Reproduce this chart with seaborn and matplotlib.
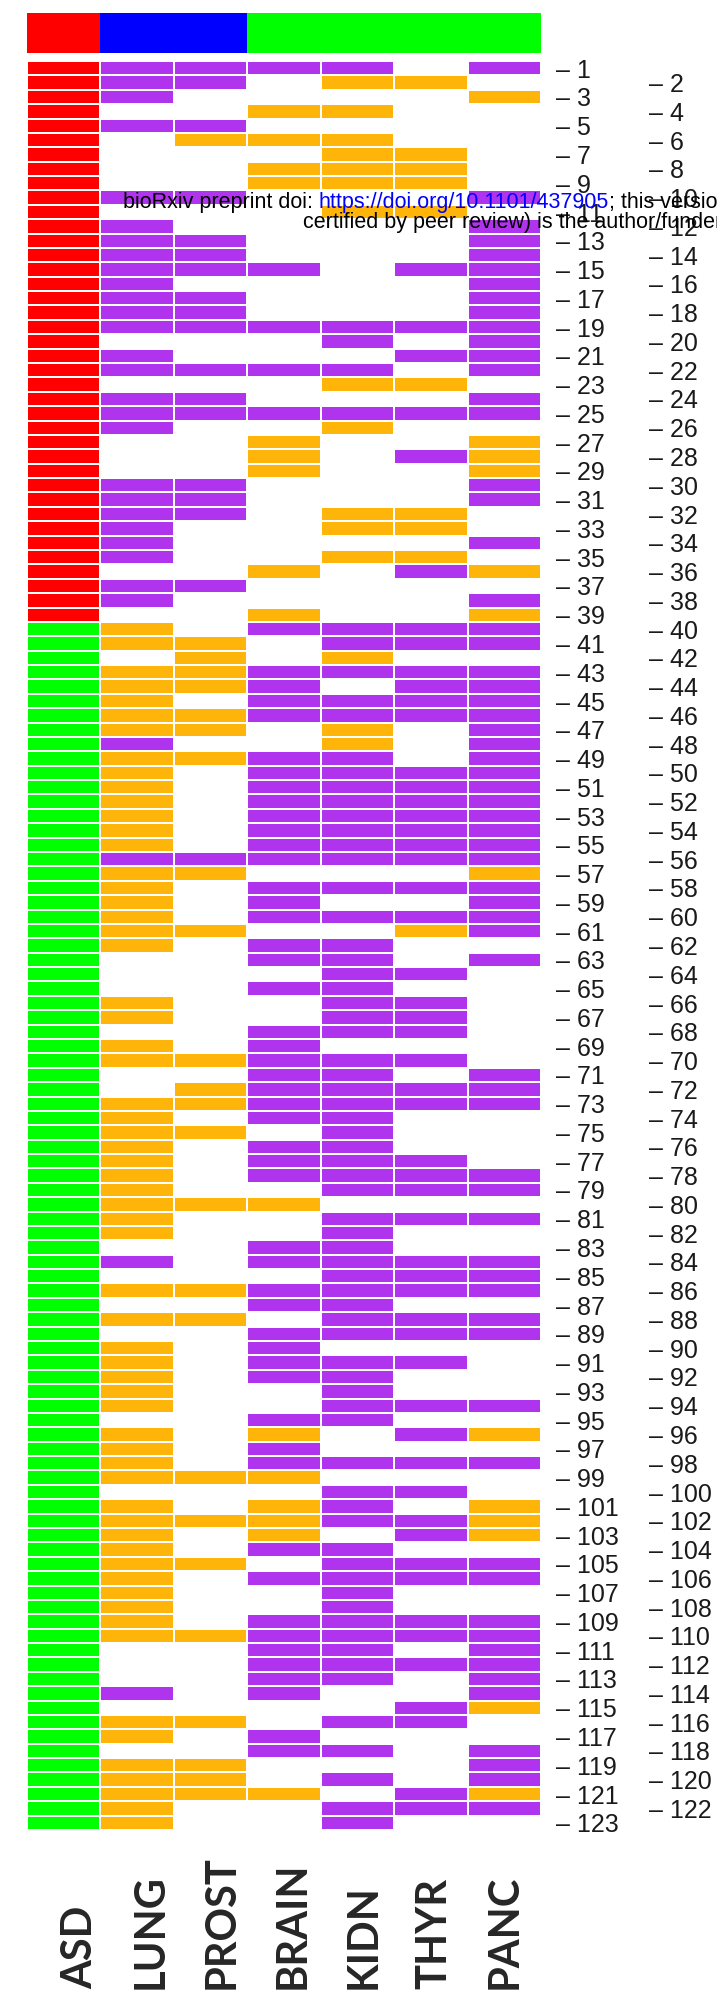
import numpy as np
import pandas as pd
import matplotlib
matplotlib.use('Agg')
import matplotlib.pyplot as plt
from matplotlib.colors import ListedColormap
import seaborn as sns

# columns of the heatmap, left to right
TISSUES = ['ASD', 'LUNG', 'PROST', 'BRAIN', 'KIDN', 'THYR', 'PANC']
# header bar groups: 3 = red, 5 = blue, 4 = green
HEADER = [3, 5, 5, 4, 4, 4, 4]
ROW_IDS = list(range(1, 124))

# ASD column: R = red block (rows 1-39), G = green block (rows 40-123)
ASD = 'R' * 39 + 'G' * 84

# per tissue, one char per row: P = purple, O = orange, . = empty
LUNG = ('PPP.P....P' '.PPPPPPPP.' 'PP.PPP...P' 'PPPPP.PP.O' 'O.OOOOOPOO'
        'OOOOOPOOOO' 'OO...OO.OO' '..OOOOOOOO' 'OO.P.O.O.O' 'OOOO.OOOO.'
        'OOOOOOOOOO' '...P.OO.OO' 'OOO')
PROST = ('PP..PO...P' '..PPP.PPP.' '.P.PP....P' 'PP....P...' 'OOOO.OO.O.'
         '.....PO...' 'O........O' '.OO.O....O' '.....O.O..' '........O.'
         '.O..O....O' '.....O..OO' 'O..')
BRAIN = ('P..O.O.OO.' '....P...P.' '.P..P.OOO.' '.....O..OP' '..PPPP..PP'
         'PPPPPP.PPP' '.PP.P..PPP' 'PPPP.PPP.O' '..PP.PP.PP' 'PP..POPPO.'
         'OOOP.P..PP' 'PPPP..PP..' 'O..')
KIDN = ('PO.O.OOOO.' 'O.......PP' '.PO.PO....' '.OO.O....P' 'POP.PPOOPP'
        'PPPPPP.P.P' '.PPPPPPP.P' 'PPPPPPPPP.' 'PPPPPPPPP.' 'PPPPP..P.P'
        'PP.PPPPPPP' 'PPP..P.P.P' '.PP')
THYR = ('.O....OOO.' 'O...P...P.' 'P.O.P..P..' '.OO.OP...P' 'P.PPPP...P'
        'PPPPPP.P.P' 'O..P.PPP.P' '.PP...PPP.' 'P..PPP.PP.' 'P..P.P.P.P'
        '.PP.PP..PP' '.P..PP....' 'PP.')
PANC = ('P.O......P' '.PPPPPPPPP' 'PP.PP.OOOP' 'P..P.O.POP' 'P.PPPPPPPP'
        'PPPPPPOPPP' 'P.P.......' 'PPP....PP.' 'P..PPP.PP.' '...P.O.P..'
        'OOO.PP..PP' 'PPPPO..PPP' 'OP.')

PURPLE = '#B034EE'
ORANGE = '#FFB40A'
RED = '#FF0000'
GREEN = '#00FF00'
BLUE = '#0000FF'

CODE = {'.': 0, 'P': 1, 'O': 2, 'R': 3, 'G': 4}
cols = [ASD, LUNG, PROST, BRAIN, KIDN, THYR, PANC]
df = pd.DataFrame({t: [CODE[c] for c in s] for t, s in zip(TISSUES, cols)}, index=ROW_IDS)
head = pd.DataFrame([HEADER], columns=TISSUES)

cmap = ListedColormap(['white', PURPLE, ORANGE, RED, GREEN, BLUE])

W, H = 717, 1992
fig = plt.figure(figsize=(W / 100, H / 100), dpi=100)
sns.set_style('white')
plt.rcParams['font.family'] = ['Liberation Sans', 'DejaVu Sans']

x0, x1 = 27 / W, 541 / W
ax_h = fig.add_axes([x0, 1 - 53 / H, x1 - x0, 40 / H])
sns.heatmap(head, ax=ax_h, cmap=cmap, vmin=-0.5, vmax=5.5, cbar=False,
            xticklabels=False, yticklabels=False)

ax = fig.add_axes([x0, 1 - 1830 / H, x1 - x0, (1830 - 61) / H])
sns.heatmap(df, ax=ax, cmap=cmap, vmin=-0.5, vmax=5.5, cbar=False,
            linewidths=1.3, linecolor='white', xticklabels=False, yticklabels=False)

# even row labels, further right (twinx first: it resets ax ticks to the left)
ax2 = ax.twinx()
ax2.set_ylim(ax.get_ylim())
even = df.index[1::2]
ax2.set_yticks(np.arange(len(df))[1::2] + 0.5)
ax2.set_yticklabels([f'\u2013 {r}' for r in even], fontsize=18, color='#1a1a1a')
ax2.tick_params(axis='y', length=0, pad=78)
for s in ax2.spines.values():
    s.set_visible(False)

# odd row labels
odd = df.index[::2]
ax.yaxis.tick_right()
ax.set_yticks(np.arange(len(df))[::2] + 0.5)
ax.set_yticklabels([f'\u2013 {r}' for r in odd], fontsize=18, color='#1a1a1a')
ax.tick_params(axis='y', length=0, pad=11, labelright=True, labelleft=False)

# column labels at the bottom, slightly narrower spacing than the columns
for i, t in enumerate(TISSUES):
    fig.text((80 + i * 70.8) / W, 0.0015, t, rotation=90, ha='center', va='bottom',
             fontsize=30, fontweight='bold', family='Lato')

# preprint watermark (runs off the right edge, as in the original crop)
fs = 15.5
wm1 = fig.text(123 / W, 1 - 208 / H, 'bioRxiv preprint doi: ', fontsize=fs, color='black')
wm2 = fig.text(0, 0, 'https://doi.org/10.1101/437905', fontsize=fs, color=BLUE)
fig.canvas.draw()
r = fig.canvas.get_renderer()
bb = wm1.get_window_extent(r)
wm2.set_position((bb.x1 / W, wm1.get_position()[1]))
bb2 = wm2.get_window_extent(r)
fig.text(bb2.x1 / W, wm1.get_position()[1], '; this version', fontsize=fs, color='black')
fig.text(303 / W, 1 - 228 / H, 'certified by peer review) is the author/funder',
         fontsize=fs, color='black')

fig.savefig('out.png', dpi=100, facecolor='white')
